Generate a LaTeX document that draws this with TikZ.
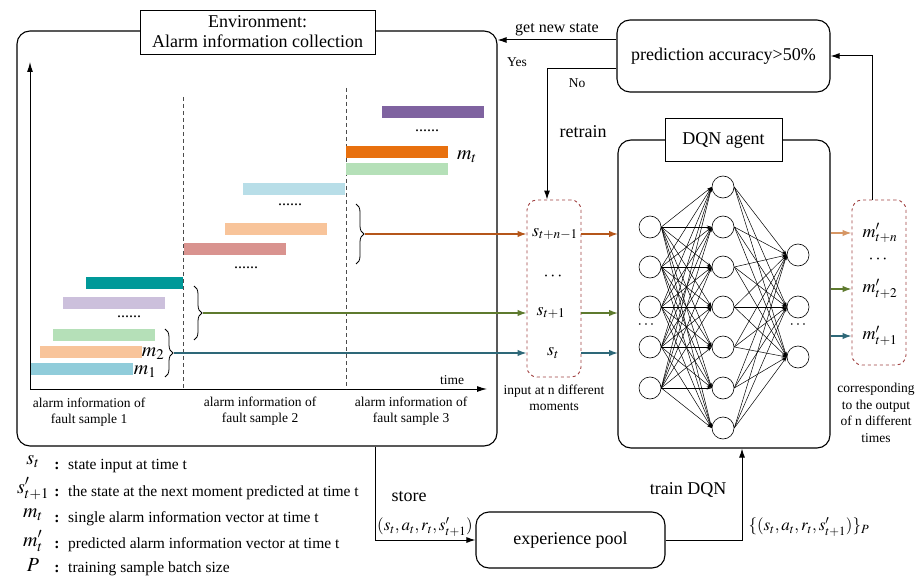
\documentclass[tikz,border=0pt]{standalone}
\usepackage{mathptmx}
\usepackage{fontspec}
\setmainfont{Liberation Serif}
\usetikzlibrary{arrows.meta,decorations.pathreplacing,positioning}
\definecolor{barpurple}{RGB}{127,99,160}
\definecolor{barorange}{RGB}{232,112,14}
\definecolor{bargreen}{RGB}{181,224,184}
\definecolor{barsky}{RGB}{184,222,232}
\definecolor{barpeach}{RGB}{248,196,154}
\definecolor{barrose}{RGB}{217,147,143}
\definecolor{barteal}{RGB}{0,153,153}
\definecolor{barlav}{RGB}{204,192,220}
\definecolor{barblue}{RGB}{144,204,218}
\definecolor{lnorange}{RGB}{181,86,26}
\definecolor{lnolive}{RGB}{94,122,46}
\definecolor{lnteal}{RGB}{46,104,120}
\definecolor{lnlight}{RGB}{214,150,100}
\definecolor{boxred}{RGB}{160,64,64}
\newcommand{\fbig}{\fontsize{18}{20}\selectfont}
\newcommand{\fmid}{\fontsize{16}{18}\selectfont}
\newcommand{\fleg}{\fontsize{15.5}{17}\selectfont}
\newcommand{\fsmall}{\fontsize{13.5}{16.5}\selectfont}
\newcommand{\fsym}{\fontsize{20}{22}\selectfont}
\begin{document}
\begin{tikzpicture}[x=1pt,y=-1pt,
    box/.style={draw,line width=1.1pt,rounded corners=13pt},
    titlebox/.style={draw,fill=white,line width=0.8pt,align=center,font=\fbig,inner sep=1pt},
    dashbox/.style={draw=boxred,dashed,line width=0.9pt,rounded corners=10pt},
    arr/.style={line width=1pt,-{Latex[length=9pt,width=6pt]}},
    carr/.style={line width=1.4pt,-{Latex[length=9pt,width=6.5pt]}},
    neuron/.style={circle,draw,line width=0.6pt,minimum size=22pt,inner sep=0pt},
    syn/.style={line width=0.5pt,-{Stealth[length=5pt,width=3pt]}},
    brc/.style={decorate,decoration={brace,amplitude=8pt},line width=0.8pt},
    lbl/.style={font=\fsmall,align=center}]
\useasboundingbox (0,0) rectangle (920,585);

% environment
\node[box,minimum width=480pt,minimum height=415pt] (env) at (257,238.5) {};
\node[titlebox,minimum width=235pt,minimum height=44pt] (envtitle) at (257.5,32) {Environment:\\Alarm information collection};
\draw[line width=1pt,-{Latex[length=10pt,width=6pt]}] (30,389) -- (30,62);
\draw[line width=1pt,-{Latex[length=10pt,width=6pt]}] (30,389) -- (487,389);
\node[font=\fsmall] (timelbl) at (452,380) {time};
\draw[dashed,gray!60!black,line width=0.9pt,dash pattern=on 4pt off 3pt] (183,97) -- (183,389) (346,88) -- (346,389);
\foreach \xa/\xb/\ya/\c in {382/484/106/barpurple,346/448/146/barorange,346/448/163/bargreen,
    243/345/183/barsky,225/327/223/barpeach,184/286/243/barrose,86/183/277/barteal,
    63/165/297/barlav,53/155/329/bargreen,40/142/346/barpeach,31/133/363/barblue}
  \fill[\c] (\xa,\ya) rectangle (\xb,\ya+12);
\foreach \x/\y in {427/131,290/205,246/268,129/317}
  \node[font=\fmid] at (\x,\y) {......};
\node[font=\fsym] (mt) at (467,157) {$m_t$};
\node[font=\fsym] (m2) at (153,354) {$m_2$};
\node[font=\fsym] (m1) at (145,372) {$m_1$};
\node[lbl] (fs1) at (89,412) {alarm information of\\fault sample 1};
\node[lbl] (fs2) at (260,411) {alarm information of\\fault sample 2};
\node[lbl] (fs3) at (411,411) {alarm information of\\fault sample 3};
\draw[brc] (165,329) -- (165,377);
\draw[brc] (194,286) -- (194,340);
\draw[brc] (356,204) -- (356,264);
\coordinate (b1) at (174,353);
\coordinate (b2) at (203,313);
\coordinate (b3) at (365,234);

% input states
\node[dashbox,minimum width=54pt,minimum height=177pt] (inbox) at (554,288.5) {};
\node[font=\fbig] (sA) at (555,234) {$s_{t+n-1}$};
\node[font=\fbig] (sdots) at (553,277) {$\cdots$};
\node[font=\fbig] (sB) at (551,313) {$s_{t+1}$};
\node[font=\fbig] (sC) at (553,353) {$s_t$};
\node[lbl] (inlbl) at (554,398) {input at n different\\moments};
\draw[carr,lnteal] (b1) -- (b1 -| inbox.west);
\draw[carr,lnolive] (b2) -- (b2 -| inbox.west);
\draw[carr,lnorange] (b3) -- (b3 -| inbox.west);
\draw[carr,lnteal] (inbox.east |- b1) -- (618,353);
\draw[carr,lnolive] (inbox.east |- b2) -- (618,313);
\draw[carr,lnorange] (inbox.east |- b3) -- (618,234);

% DQN agent
\node[box,minimum width=212pt,minimum height=308pt] (dqn) at (724,294) {};
\node[titlebox,minimum width=117pt,minimum height=43pt] (dqntitle) at (723.5,140) {DQN agent};
\foreach \y [count=\i] in {227,267,307,347,388}
  \node[neuron] (a\i) at (650,\y) {};
\foreach \y [count=\i] in {187,227,267,307,347,388,428}
  \node[neuron] (b\i) at (723,\y) {};
\foreach \y [count=\i] in {255,307,357}
  \node[neuron] (c\i) at (798,\y) {};
\foreach \i in {1,...,5}
  \foreach \j in {1,...,7}
    \draw[syn] (a\i.east) -- (b\j.west);
\foreach \i in {1,...,7}
  \foreach \j in {1,...,3}
    \draw[syn] (b\i.east) -- (c\j.west);
\node[font=\fmid] (adots) at (646,325) {$\cdots$};
\node[font=\fmid] (cdots) at (798,325) {$\cdots$};

% outputs
\node[dashbox,minimum width=54pt,minimum height=165pt] (outbox) at (879,282.5) {};
\node[font=\fbig,inner sep=1pt] (mA) at (880,233) {$m'_{t+n}$};
\node[font=\fbig,inner sep=0pt] (mdots) at (878,260) {$\cdots$};
\node[font=\fbig,inner sep=1pt] (mB) at (880,289) {$m'_{t+2}$};
\node[font=\fbig,inner sep=1pt] (mC) at (880,336) {$m'_{t+1}$};
\node[lbl] (outlbl) at (876,413) {corresponding\\to the output\\of n different\\times};
\draw[carr,lnlight] (dqn.east |- mA) -- (outbox.west |- mA);
\draw[carr,lnolive] (dqn.east |- mB) -- (outbox.west |- mB);
\draw[carr,lnteal] (dqn.east |- mC) -- (outbox.west |- mC);

% decision
\node[box,minimum width=213pt,minimum height=72pt,font=\fbig] (pred) at (723.5,56) {prediction accuracy>50\%};
\draw[arr] (pred.west |- 0,40) -- (env.east |- 0,40) node[midway,above,font=\fmid] {get new state};
\node[font=\fsmall] (yes) at (517,62) {Yes};
\draw[arr] (pred.west |- 0,69) -| ([xshift=-7pt]inbox.north);
\node[font=\fsmall] (no) at (577,83) {No};
\node[font=\fbig] (retrain) at (583,132) {retrain};
\draw[arr] ([xshift=-7pt]outbox.north) |- (pred.east);

% experience pool
\node[box,minimum width=189pt,minimum height=56pt,font=\fbig] (pool) at (570.5,540) {experience pool};
\draw[arr] (env.south -| 375,0) |- (pool.west);
\node[font=\fbig] (store) at (409,497) {store};
\node[font=\fontsize{17}{19}\selectfont] (tup) at (425,527) {$(s_t,a_t,r_t,s'_{t+1})$};
\draw[arr] (pool.east) -| (dqn.south -| 742,0);
\node[font=\fbig] (train) at (688,490) {train DQN};
\node[font=\fontsize{17}{19}\selectfont,anchor=west] (tupset) at (745,527) {$\{(s_t,a_t,r_t,s'_{t+1})\}_P$};

% legend
\foreach \y/\s/\t [count=\i] in {462/{s_t}/{state input at time t},
    489/{s'_{t+1}}/{the state at the next moment predicted at time t},
    515/{m_t}/{single alarm information vector at time t},
    541/{m'_t}/{predicted alarm information vector at time t},
    565/{P}/{training sample batch size}}{
  \node[font=\fsym] (sym\i) at (33,\y) {$\s$};
  \node[font=\fleg] (col\i) at (57,\y+4) {\textbf{:}};
  \node[font=\fleg,anchor=west,inner sep=0pt] (leg\i) at (68,\y+4) {\t};
}
\end{tikzpicture}
\end{document}
